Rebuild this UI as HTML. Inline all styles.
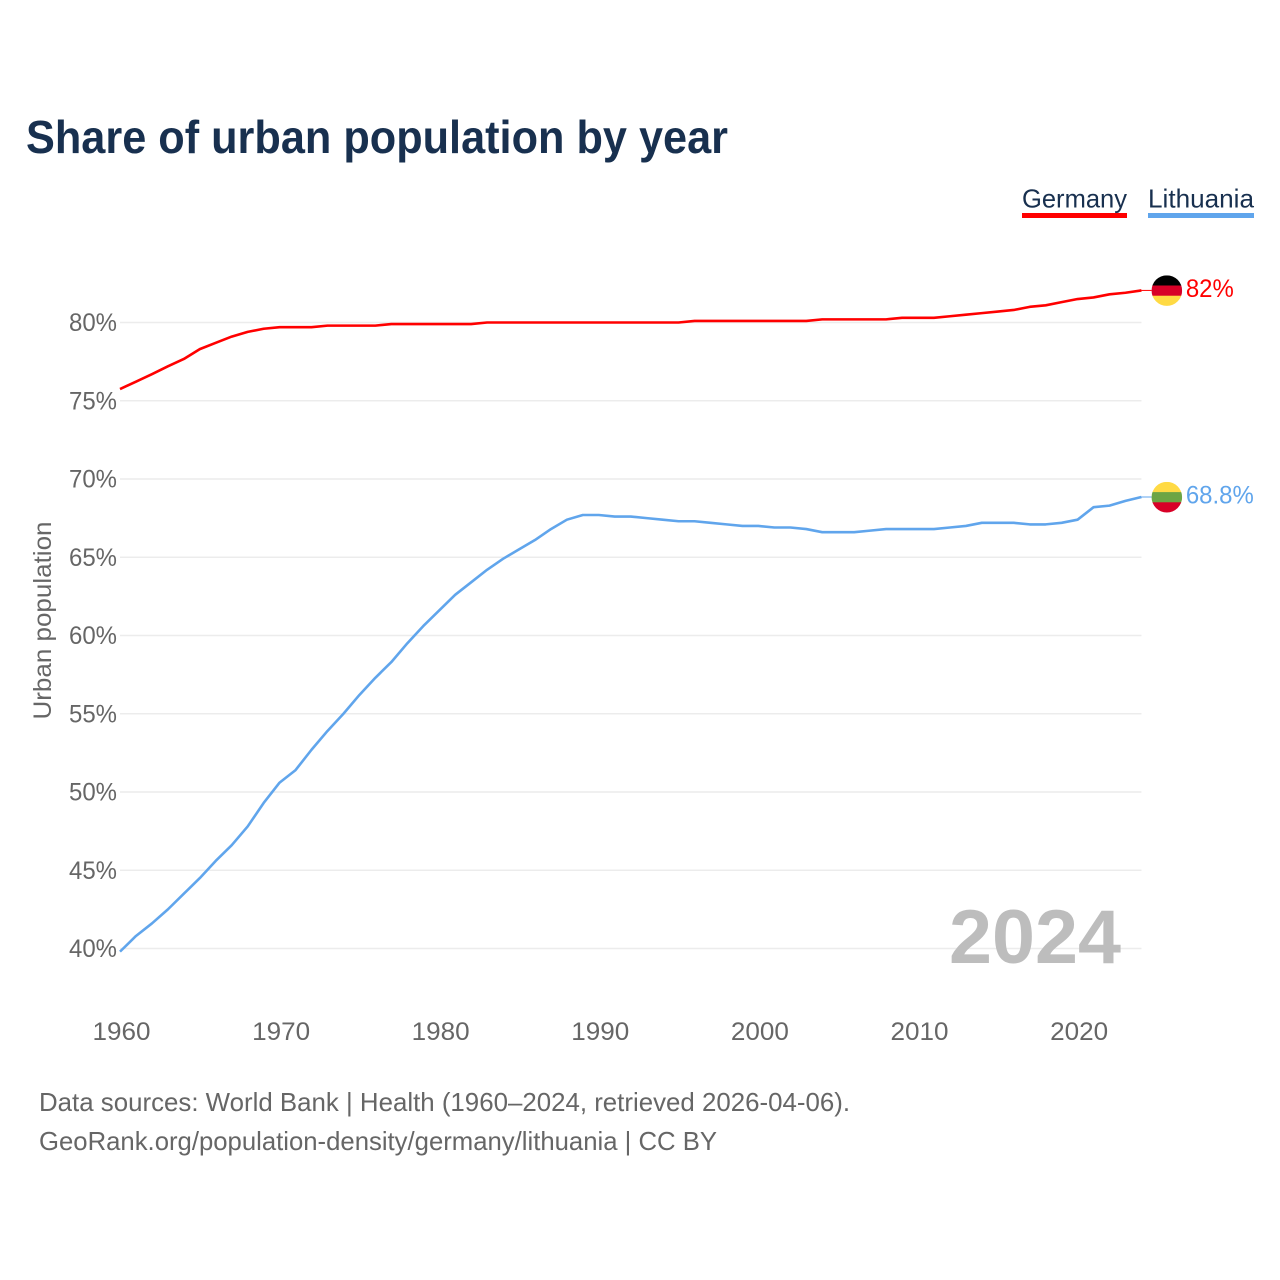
<!DOCTYPE html>
<html lang="en">
<head>
<meta charset="utf-8">
<title>Share of urban population by year</title>
<style>
html,body{margin:0;padding:0;background:#fff;width:1280px;height:1280px;overflow:hidden}
svg{display:block;font-family:"Liberation Sans",sans-serif}
</style>
</head>
<body>
<svg id="chart" xmlns="http://www.w3.org/2000/svg" width="1280" height="1280" viewBox="0 0 1280 1280">
  <rect x="0" y="0" width="1280" height="1280" fill="#fff"/>
  <text x="26" y="153" font-size="46" font-weight="700" fill="#18304f" textLength="702" lengthAdjust="spacingAndGlyphs">Share of urban population by year</text>
  <g>
    <text x="1022" y="207.5" font-size="26" fill="#18304f" textLength="105" lengthAdjust="spacingAndGlyphs">Germany</text>
    <rect x="1022" y="213" width="105" height="5" fill="#ff0000"/>
  </g>
  <g>
    <text x="1148" y="207.5" font-size="26" fill="#18304f" textLength="106" lengthAdjust="spacingAndGlyphs">Lithuania</text>
    <rect x="1148" y="213" width="106" height="5" fill="#60a5ec"/>
  </g>
  <text transform="translate(51,620.5) rotate(-90)" text-anchor="middle" font-size="25" fill="#666" textLength="198" lengthAdjust="spacingAndGlyphs">Urban population</text>
  <g id="grid"></g>
  <g id="yticks"></g>
  <g id="xticks"></g>
  <text x="949" y="963" font-size="76" font-weight="700" fill="#bdbdbd" textLength="172" lengthAdjust="spacingAndGlyphs">2024</text>
  <g id="series"></g>
  <g id="ends"></g>
  <text x="39" y="1111" font-size="26" fill="#666" textLength="811" lengthAdjust="spacingAndGlyphs">Data sources: World Bank | Health (1960–2024, retrieved 2026-04-06).</text>
  <text x="39" y="1150" font-size="26" fill="#666" textLength="678" lengthAdjust="spacingAndGlyphs">GeoRank.org/population-density/germany/lithuania | CC BY</text>
</svg>
<script>
const years = [1960,1961,1962,1963,1964,1965,1966,1967,1968,1969,1970,1971,1972,1973,1974,1975,1976,1977,1978,1979,1980,1981,1982,1983,1984,1985,1986,1987,1988,1989,1990,1991,1992,1993,1994,1995,1996,1997,1998,1999,2000,2001,2002,2003,2004,2005,2006,2007,2008,2009,2010,2011,2012,2013,2014,2015,2016,2017,2018,2019,2020,2021,2022,2023,2024];
const germany = [75.75,76.22,76.7,77.2,77.67,78.3,78.7,79.1,79.4,79.6,79.7,79.7,79.7,79.8,79.8,79.8,79.8,79.9,79.9,79.9,79.9,79.9,79.9,80,80,80,80,80,80,80,80,80,80,80,80,80,80.1,80.1,80.1,80.1,80.1,80.1,80.1,80.1,80.2,80.2,80.2,80.2,80.2,80.3,80.3,80.3,80.4,80.5,80.6,80.7,80.8,81,81.1,81.3,81.5,81.6,81.8,81.9,82.05];
const lithuania = [39.8,40.8,41.6,42.5,43.5,44.5,45.6,46.6,47.8,49.3,50.6,51.4,52.7,53.9,55,56.2,57.3,58.3,59.5,60.6,61.6,62.6,63.4,64.2,64.9,65.5,66.1,66.8,67.4,67.7,67.7,67.6,67.6,67.5,67.4,67.3,67.3,67.2,67.1,67,67,66.9,66.9,66.8,66.6,66.6,66.6,66.7,66.8,66.8,66.8,66.8,66.9,67,67.2,67.2,67.2,67.1,67.1,67.2,67.4,68.2,68.3,68.6,68.85];
const yTickValues = [40,45,50,55,60,65,70,75,80];
const xTickValues = [1960,1970,1980,1990,2000,2010,2020];
const germanyStripes = ['#000000','#d80027','#ffda44'];
const lithuaniaStripes = ['#ffda44','#6da544','#d80027'];
const germanyLabel = '82%';
const lithuaniaLabel = '68.8%';

const NS = 'http://www.w3.org/2000/svg';
function xScale(year){ return 120 + (year - 1960) * 15.96; }
function yScale(v){ return 948.5 - (v - 40) * 15.65; }
function make(tag, attrs, parent){
  const el = document.createElementNS(NS, tag);
  for (const k in attrs) el.setAttribute(k, attrs[k]);
  parent.appendChild(el);
  return el;
}
const grid = document.getElementById('grid');
const yticks = document.getElementById('yticks');
const xticks = document.getElementById('xticks');
const seriesG = document.getElementById('series');
const ends = document.getElementById('ends');
const plotRight = xScale(years[years.length - 1]);

yTickValues.forEach(function(v){
  const line = make('line', {x1:120, x2:plotRight, y1:yScale(v), y2:yScale(v), stroke:'#ececec', 'stroke-width':1.6}, grid);
  
  
  const t = make('text', {x:117, y:yScale(v) + 8.5, 'text-anchor':'end', 'font-size':25, fill:'#666', textLength:48, lengthAdjust:'spacingAndGlyphs'}, yticks);
  
  
  t.textContent = v + '%';
});
xTickValues.forEach(function(y){
  const t = make('text', {x:xScale(y) + 1.5, y:1040, 'text-anchor':'middle', 'font-size':25, fill:'#666', textLength:58, lengthAdjust:'spacingAndGlyphs'}, xticks);
  
  
  t.textContent = y;
});

function drawSeries(name, values, color, stripes, label, labelWidth){
  const pts = values.map(function(v, i){ return xScale(years[i]).toFixed(2) + ',' + yScale(v).toFixed(2); }).join(' ');
  const line = make('polyline', {points:pts, fill:'none', stroke:color, 'stroke-width':2.6, 'stroke-linejoin':'round'}, seriesG);
  
  

  const last = values[values.length - 1];
  const ly = yScale(last);
  const cx = plotRight + 25.4;
  const cy = ly + 0.2;
  const r = 15.3;

  const conn = make('line', {x1:plotRight, x2:cx - r, y1:ly, y2:ly, stroke:color, 'stroke-width':1}, ends);
  
  

  const clip = make('clipPath', {id:'clip-' + name}, ends);
  make('circle', {cx:cx, cy:cy, r:r}, clip);
  const flag = make('g', {'clip-path':'url(#clip-' + name + ')'}, ends);
  
  
  stripes.forEach(function(c, i){
    make('rect', {x:cx - r, y:cy - r + i * 2 * r / 3, width:2 * r, height:2 * r / 3 + 0.3, fill:c}, flag);
  });

  const t = make('text', {x:cx + 19, y:ly + 6.5, 'font-size':25, fill:color, textLength:labelWidth, lengthAdjust:'spacingAndGlyphs'}, ends);
  
  
  t.textContent = label;
}
drawSeries('germany', germany, '#ff0000', germanyStripes, germanyLabel, 48);
drawSeries('lithuania', lithuania, '#60a5ec', lithuaniaStripes, lithuaniaLabel, 68);
</script>
</body>
</html>
